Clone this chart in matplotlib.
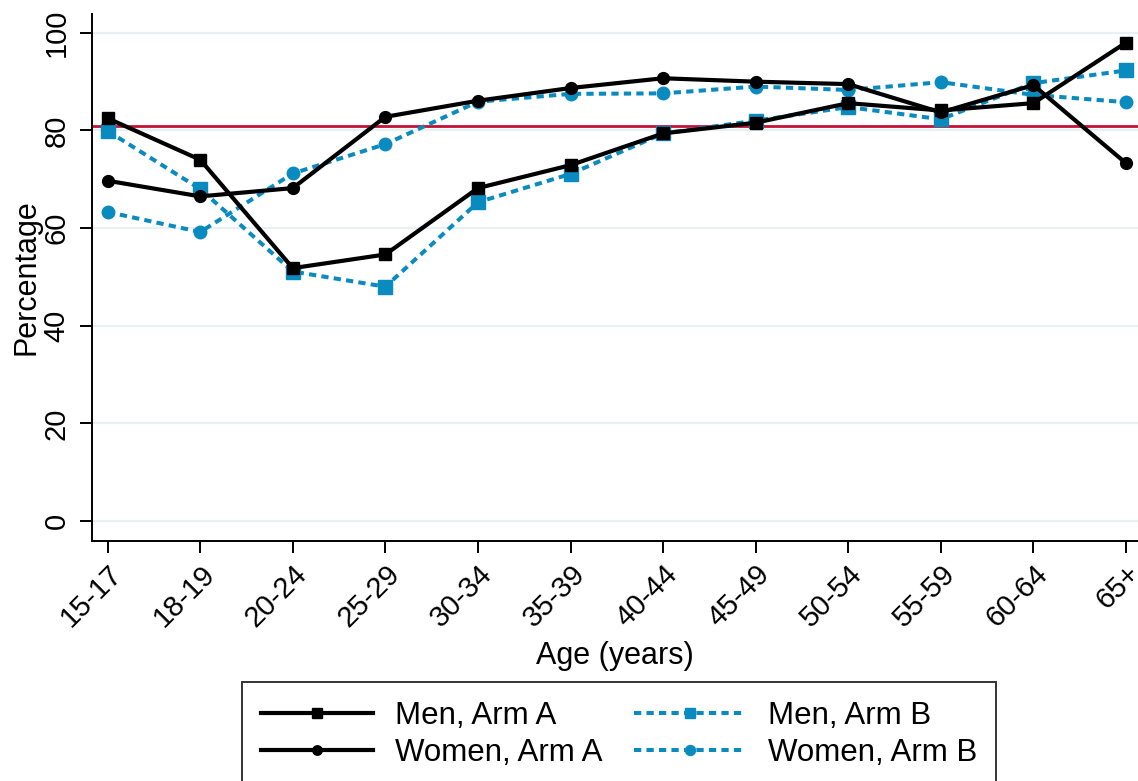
import matplotlib.pyplot as plt
import numpy as np

plt.rcParams['font.family'] = ['Liberation Sans', 'DejaVu Sans']

# age groups and percentages
age_groups = ['15-17', '18-19', '20-24', '25-29', '30-34', '35-39',
              '40-44', '45-49', '50-54', '55-59', '60-64', '65+']
men_a = [82.5, 74.0, 51.8, 54.6, 68.2, 72.9, 79.4, 81.6, 85.6, 84.1, 85.6, 98.0]
women_a = [69.7, 66.5, 68.2, 82.8, 86.1, 88.7, 90.7, 90.0, 89.5, 83.7, 89.3, 73.3]
men_b = [79.9, 68.0, 51.1, 48.0, 65.3, 71.1, 79.4, 82.0, 84.8, 82.3, 89.7, 92.3]
women_b = [63.3, 59.2, 71.2, 77.2, 85.9, 87.5, 87.6, 89.0, 88.3, 89.9, 87.3, 85.8]
reference_line = 80.9
y_ticks = [0, 20, 40, 60, 80, 100]

blue = '#0a8bc0'
red = '#c41037'

fig = plt.figure(figsize=(11.38, 7.81), dpi=100)
ax = fig.add_axes([0.0808, 0.3073, 0.9192, 0.675])

x = np.arange(len(age_groups))

for v in y_ticks:
    ax.axhline(v, color='#e8f0f2', lw=1.6, zorder=0)
ax.axhline(reference_line, color=red, lw=2.0, zorder=1)

dash = (0, (1.8, 1.3))
ax.plot(x, men_a, color='black', lw=3.0, marker='s', ms=9, label='Men, Arm A', zorder=4)
ax.plot(x, women_a, color='black', lw=3.0, marker='o', ms=8.5, label='Women, Arm A', zorder=4)
ax.plot(x, men_b, color=blue, lw=2.9, ls=dash, marker='s', ms=9.5,
        label='Men, Arm B', zorder=3)
ax.plot(x, women_b, color=blue, lw=2.9, ls=dash, marker='o', ms=9,
        label='Women, Arm B', zorder=3)

ax.set_xlim(-0.17, 11.13)
ax.set_ylim(-4.1, 103.9)
ax.set_xticks(x)
ax.set_xticklabels(age_groups, rotation=45, ha='right', rotation_mode='anchor')
ax.set_yticks(y_ticks)
ax.set_yticklabels([str(v) for v in y_ticks], rotation=90, va='center')
ax.tick_params(axis='both', labelsize=21, length=8.5, width=1.4, direction='out', pad=7)
ax.tick_params(axis='x', pad=5)

for side in ['top', 'right']:
    ax.spines[side].set_visible(False)
for side in ['left', 'bottom']:
    ax.spines[side].set_linewidth(1.4)

ax.set_xlabel('Age (years)', fontsize=22, labelpad=6)
ax.set_ylabel('Percentage', fontsize=22, labelpad=1)

handles, labels = ax.get_legend_handles_labels()
leg = fig.legend(handles, labels,
                 loc='upper center', bbox_to_anchor=(0.544, 0.127), ncol=2,
                 fontsize=22.5, frameon=True, fancybox=False, edgecolor='black',
                 handlelength=3.6, markerscale=0.8, columnspacing=1.0,
                 handletextpad=0.7, borderpad=0.6, borderaxespad=0,
                 labelspacing=0.25)
leg.get_frame().set_linewidth(1.4)

fig.savefig('out.png', dpi=100)
